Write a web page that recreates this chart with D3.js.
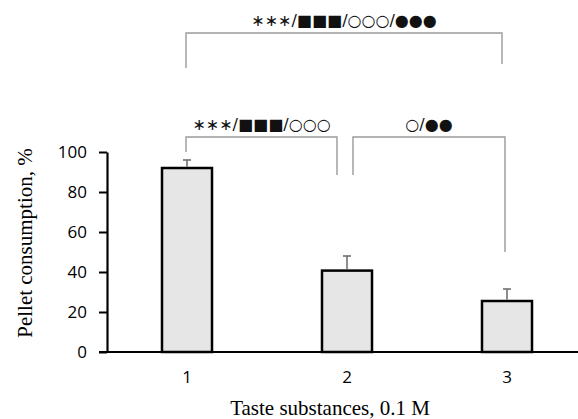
<!DOCTYPE html>
<html>
<head>
<meta charset="utf-8">
<script src="https://cdn.jsdelivr.net/npm/d3@7"></script>
<style>
  body { margin: 0; background: #fff; }
  svg { display: block; }
</style>
</head>
<body>
<div class="container"></div>
<script>
var categories = ['1', '2', '3'];
var means = [92, 40.7, 25.5];
var errors = [4, 7.3, 6];
var yTicks = [0, 20, 40, 60, 80, 100];

// significance brackets, y in data units, dx in px from bar centre
var brackets = [
    {from: '1', to: '3', dxFrom: -1, dxTo: -5, top: 159.5, legFrom: 142, legTo: 144, label: '∗∗∗/■■■/○○○/●●●'},
    {from: '1', to: '2', dxFrom: -1, dxTo: -10, top: 107.5, legFrom: 100, legTo: 88.5, label: '∗∗∗/■■■/○○○'},
    {from: '2', to: '3', dxFrom: 6, dxTo: -2, top: 107.5, legFrom: 88.5, legTo: 50, label: '○/●●'}
];

var drawChart = function () {

    var WIDTH = 578;
    var HEIGHT = 419;
    var LEFT = 107;
    var TOP = 152;
    var BOTTOM = 352;
    var RIGHT = 587;

    var xScale = d3.scaleBand()
        .domain(categories)
        .range([LEFT, RIGHT])
        .paddingInner(0.6875)
        .paddingOuter(0.34375);

    var yScale = d3.scaleLinear()
        .domain([0, 100])
        .range([BOTTOM, TOP]);

    var svg = d3.select('.container')
        .append('svg')
        .attr('width', WIDTH)
        .attr('height', HEIGHT);

    var data = categories.map(function (c, i) {
        return {cat: c, mean: means[i], err: errors[i]};
    });

    // bars
    svg.selectAll('rect.bar')
        .data(data)
        .enter()
        .append('rect')
        .attr('class', 'bar')
        .attr('x', function (d) { return xScale(d.cat); })
        .attr('y', function (d) { return yScale(d.mean); })
        .attr('width', xScale.bandwidth())
        .attr('height', function (d) { return yScale(0) - yScale(d.mean); })
        .attr('fill', '#e6e6e6')
        .attr('stroke', '#000')
        .attr('stroke-width', 2.5);

    // error bars
    var cx = function (c) { return xScale(c) + xScale.bandwidth() / 2; };
    var errG = svg.append('g')
        .attr('stroke', '#707070')
        .attr('stroke-width', 1.6);
    errG.selectAll('line.stem')
        .data(data)
        .enter()
        .append('line')
        .attr('x1', function (d) { return cx(d.cat); })
        .attr('x2', function (d) { return cx(d.cat); })
        .attr('y1', function (d) { return yScale(d.mean) - 1.25; })
        .attr('y2', function (d) { return yScale(d.mean + d.err); });
    errG.selectAll('line.cap')
        .data(data)
        .enter()
        .append('line')
        .attr('x1', function (d) { return cx(d.cat) - 4; })
        .attr('x2', function (d) { return cx(d.cat) + 4; })
        .attr('y1', function (d) { return yScale(d.mean + d.err); })
        .attr('y2', function (d) { return yScale(d.mean + d.err); });

    // axes
    var yAxis = d3.axisLeft(yScale)
        .tickValues(yTicks)
        .tickSize(8)
        .tickSizeOuter(0)
        .tickPadding(12);
    var yG = svg.append('g')
        .attr('transform', 'translate(' + LEFT + ',0)')
        .call(yAxis);
    yG.select('.domain').attr('stroke-width', 2.2);
    yG.selectAll('.tick line').attr('stroke-width', 2);
    yG.selectAll('text')
        .attr('font-family', 'Open Sans')
        .attr('font-size', 17)
        .attr('fill', '#000');

    var xAxis = d3.axisBottom(xScale)
        .tickSize(0)
        .tickPadding(19);
    var xG = svg.append('g')
        .attr('transform', 'translate(0,' + BOTTOM + ')')
        .call(xAxis);
    xG.select('.domain')
        .attr('d', 'M' + (LEFT - 8) + ',0H' + RIGHT)
        .attr('stroke-width', 2.2);
    xG.selectAll('text')
        .attr('font-family', 'Open Sans')
        .attr('font-size', 17)
        .attr('fill', '#000');

    // axis titles
    svg.append('text')
        .attr('x', 330)
        .attr('y', 415)
        .attr('text-anchor', 'middle')
        .attr('font-family', 'Liberation Serif')
        .attr('font-size', 21)
        .text('Taste substances, 0.1 M');

    svg.append('text')
        .attr('transform', 'translate(32,243) rotate(-90)')
        .attr('text-anchor', 'middle')
        .attr('font-family', 'Liberation Serif')
        .attr('font-size', 21)
        .text('Pellet consumption, %');

    // significance brackets
    var bG = svg.append('g');
    brackets.forEach(function (b) {
        var x1 = cx(b.from) + b.dxFrom;
        var x2 = cx(b.to) + b.dxTo;
        bG.append('path')
            .attr('d', 'M' + x1 + ',' + yScale(b.legFrom) +
                'V' + yScale(b.top) + 'H' + x2 + 'V' + yScale(b.legTo))
            .attr('fill', 'none')
            .attr('stroke', '#9a9a9a')
            .attr('stroke-width', 1.4);
        bG.append('text')
            .attr('x', (x1 + x2) / 2)
            .attr('y', yScale(b.top) - 7)
            .attr('text-anchor', 'middle')
            .attr('font-family', 'DejaVu Sans')
            .attr('font-size', 16)
            .attr('fill', '#111')
            .text(b.label);
    });
};

window.onload = drawChart;
</script>
</body>
</html>
